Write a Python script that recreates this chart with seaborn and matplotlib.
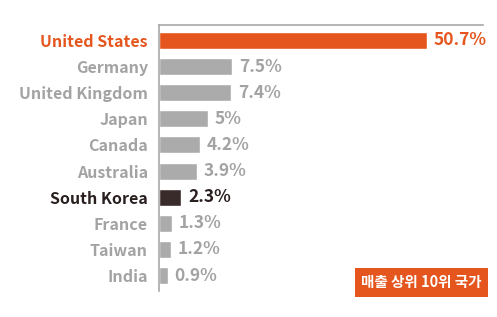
import numpy as np
import pandas as pd
import matplotlib
matplotlib.use("Agg")
import matplotlib.pyplot as plt
import seaborn as sns

countries = ["United States", "Germany", "United Kingdom", "Japan", "Canada",
             "Australia", "South Korea", "France", "Taiwan", "India"]
shares = [50.7, 7.5, 7.4, 5, 4.2, 3.9, 2.3, 1.3, 1.2, 0.9]
badge_text = "매출 상위 10위 국가"

ORANGE = "#E5561E"
GRAY_BAR = "#ABABAB"
GRAY_TXT = "#A3A3A3"
DARK_BAR = "#3A2B2B"
DARK_TXT = "#2A1F1F"

bar_colors = {c: GRAY_BAR for c in countries}
bar_colors["United States"] = ORANGE
bar_colors["South Korea"] = DARK_BAR
txt_colors = {c: GRAY_TXT for c in countries}
txt_colors["United States"] = ORANGE
txt_colors["South Korea"] = DARK_TXT

df = pd.DataFrame({"country": countries, "share": shares})

sns.set_style("white")
plt.rcParams["font.family"] = ["Noto Sans CJK KR", "DejaVu Sans"]

fig = plt.figure(figsize=(4.97, 3.17), dpi=100)
ax = fig.add_axes([159/497, 1-291/317, (483-159)/497, (291-25)/317])

# compressed (broken) value axis beyond 10%, as in the original graphic
K = 0.43
def fwd(x):
    x = np.asarray(x, dtype=float)
    return np.where(x <= 10, x, 10 + (x - 10) * K)
def inv(y):
    y = np.asarray(y, dtype=float)
    return np.where(y <= 10, y, 10 + (y - 10) / K)

sns.barplot(data=df, y="country", x="share", hue="country", palette=bar_colors,
            orient="h", width=0.65, legend=False, ax=ax, saturation=1)
ax.set_xscale("function", functions=(fwd, inv))
ax.set_xlim(0, 64.2)
ax.set_ylim(9.59, -0.59)

for i, (c, v) in enumerate(zip(countries, shares)):
    ax.annotate(f"{v:g}%", xy=(v, i), xytext=(5, 0), textcoords="offset points",
                va="center", ha="left", fontsize=12.5, fontweight="bold",
                color=txt_colors[c])

ax.set_yticks(range(len(countries)))
ax.set_yticklabels(countries, fontsize=11.5, fontweight="bold")
for lbl, c in zip(ax.get_yticklabels(), countries):
    lbl.set_color(txt_colors[c])
ax.tick_params(axis="y", length=0, pad=8)
ax.set_xticks([])
ax.set_xlabel("")
ax.set_ylabel("")
for s in ["right", "bottom"]:
    ax.spines[s].set_visible(False)
for s in ["top", "left"]:
    ax.spines[s].set_color("#A8A8A8")
    ax.spines[s].set_linewidth(1.2)

fig.text(0.969, 0.109, badge_text, ha="right", va="center", fontsize=10.5,
         fontweight="bold", color="white",
         bbox=dict(boxstyle="square,pad=0.45", facecolor=ORANGE, edgecolor="none"))

fig.savefig("out.png", dpi=100)
